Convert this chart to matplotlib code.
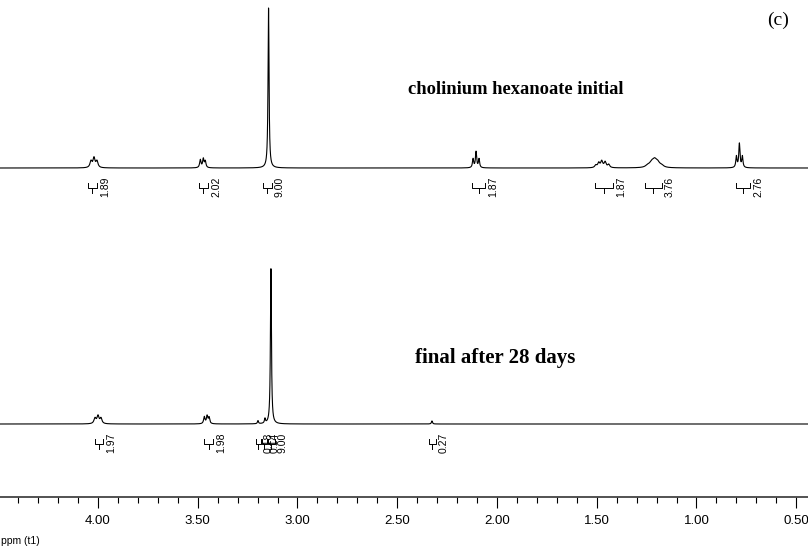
import numpy as np
import matplotlib
matplotlib.use("Agg")
import matplotlib.pyplot as plt
from matplotlib.ticker import MultipleLocator, FormatStrFormatter

# ---- peak tables (ppm, intensity in % of the tallest line, half width in ppm)
initial_ppm = [4.035, 4.020, 4.005, 3.487, 3.472, 3.462, 3.145,
               2.120, 2.105, 2.090, 1.505, 1.490, 1.475, 1.458, 1.440,
               1.245, 1.225, 1.210, 1.195, 1.175, 0.800, 0.785, 0.770]
initial_int = [4.0, 6.0, 4.0, 5.0, 5.5, 4.0, 100.0,
               5.5, 10.0, 5.5, 1.5, 3.0, 4.0, 3.5, 2.0,
               1.2, 2.8, 4.0, 2.8, 1.2, 7.0, 15.0, 7.0]
initial_hw = [0.006, 0.006, 0.006, 0.004, 0.004, 0.004, 0.003,
              0.0035, 0.0035, 0.0035, 0.006, 0.006, 0.006, 0.006, 0.006,
              0.012, 0.012, 0.012, 0.012, 0.012, 0.0035, 0.0035, 0.0035]

final_ppm = [4.015, 4.000, 3.985, 3.467, 3.453, 3.443, 3.198, 3.163, 3.133, 2.326]
final_int = [3.5, 5.0, 3.5, 4.5, 5.0, 4.0, 2.0, 3.0, 100.0, 2.0]
final_hw = [0.006, 0.006, 0.006, 0.004, 0.004, 0.004, 0.003, 0.003, 0.003, 0.003]

# ---- integrals (region start, region end, value)
initial_int_from = [4.050, 3.494, 3.173, 2.125, 1.509, 1.258, 0.802]
initial_int_to = [4.005, 3.448, 3.128, 2.060, 1.418, 1.173, 0.732]
initial_int_lbl = ["1.89", "2.02", "9.00", "1.87", "1.87", "3.76", "2.76"]

final_int_from = [4.015, 3.468, 3.208, 3.178, 3.148, 2.341]
final_int_to = [3.975, 3.423, 3.183, 3.153, 3.113, 2.306]
final_int_lbl = ["1.97", "1.98", "0.18", "0.14", "9.00", "0.27"]

ppm_ticks = [4.00, 3.50, 3.00, 2.50, 2.00, 1.50, 1.00, 0.50]

# figure geometry (pixels)
W, H = 808, 553
XL, XR = 4.491, 0.441
PX = (XL - XR) / W          # ppm per pixel
PX_PER_PCT = 1.60
BASE_TOP, BASE_BOT = 168, 424

fig = plt.figure(figsize=(W / 100, H / 100), dpi=100)
fig.patch.set_facecolor("white")
ax = fig.add_axes([0, 0, 1, 1])
ax.set_xlim(XL, XR)
ax.set_ylim(H, 0)
ax.axis("off")

grid = np.linspace(XL, XR, 24000)


def spectrum(ppm, inten, hw):
    y = np.zeros_like(grid)
    for p, i, w in zip(ppm, inten, hw):
        y += i / (1 + ((grid - p) / w) ** 2)
    return y


def integrals(starts, ends, labels, base):
    yh = base + 20
    for a, b, lbl in zip(starts, ends, labels):
        ax.plot([a, a, b, b], [yh - 5, yh, yh, yh - 5], color="black", lw=0.7)
        m = (a + b) / 2
        ax.plot([m, m], [yh, yh + 5], color="black", lw=0.7)
        ax.text(b - 3 * PX, yh - 1, lbl, rotation=90, ha="left", va="center",
                fontsize=7.5, family="Liberation Sans")


ax.plot(grid, BASE_TOP - PX_PER_PCT * spectrum(initial_ppm, initial_int, initial_hw),
        color="black", lw=0.8)
ax.plot(grid, BASE_BOT - PX_PER_PCT * 0.97 * spectrum(final_ppm, final_int, final_hw),
        color="black", lw=0.8)

integrals(initial_int_from, initial_int_to, initial_int_lbl, BASE_TOP)
integrals(final_int_from, final_int_to, final_int_lbl, BASE_BOT)

serif = "Liberation Serif"
ax.text(XL - 408 * PX, 90, "cholinium hexanoate initial", fontsize=13.3,
        fontweight="bold", family=serif, va="center")
ax.text(XL - 415 * PX, 358, "final after 28 days", fontsize=15,
        fontweight="bold", family=serif, va="center")
ax.text(XL - 767 * PX, 20, "(c)", fontsize=14, family=serif, va="center")
ax.text(XL - 1 * PX, 541, "ppm (t1)", fontsize=7.5, family="Liberation Sans", va="center")

# ppm scale
ax_sc = fig.add_axes([0, 1 - 497 / H, 1, 0.05])
ax_sc.set_xlim(XL, XR)
ax_sc.set_yticks([])
ax_sc.patch.set_alpha(0)
for s in ["top", "left", "right"]:
    ax_sc.spines[s].set_visible(False)
ax_sc.spines["bottom"].set_linewidth(1.3)
ax_sc.spines["bottom"].set_color("#444444")
ax_sc.set_xticks(ppm_ticks)
ax_sc.xaxis.set_major_formatter(FormatStrFormatter("%.2f"))
ax_sc.xaxis.set_minor_locator(MultipleLocator(0.1))
ax_sc.tick_params(axis="x", which="major", length=8, width=0.8, pad=5,
                  labelsize=9.5, direction="out")
ax_sc.tick_params(axis="x", which="minor", length=4.5, width=0.8, direction="out")
for t in ax_sc.get_xticklabels():
    t.set_family("Liberation Sans")

fig.savefig("out.png", dpi=100)
